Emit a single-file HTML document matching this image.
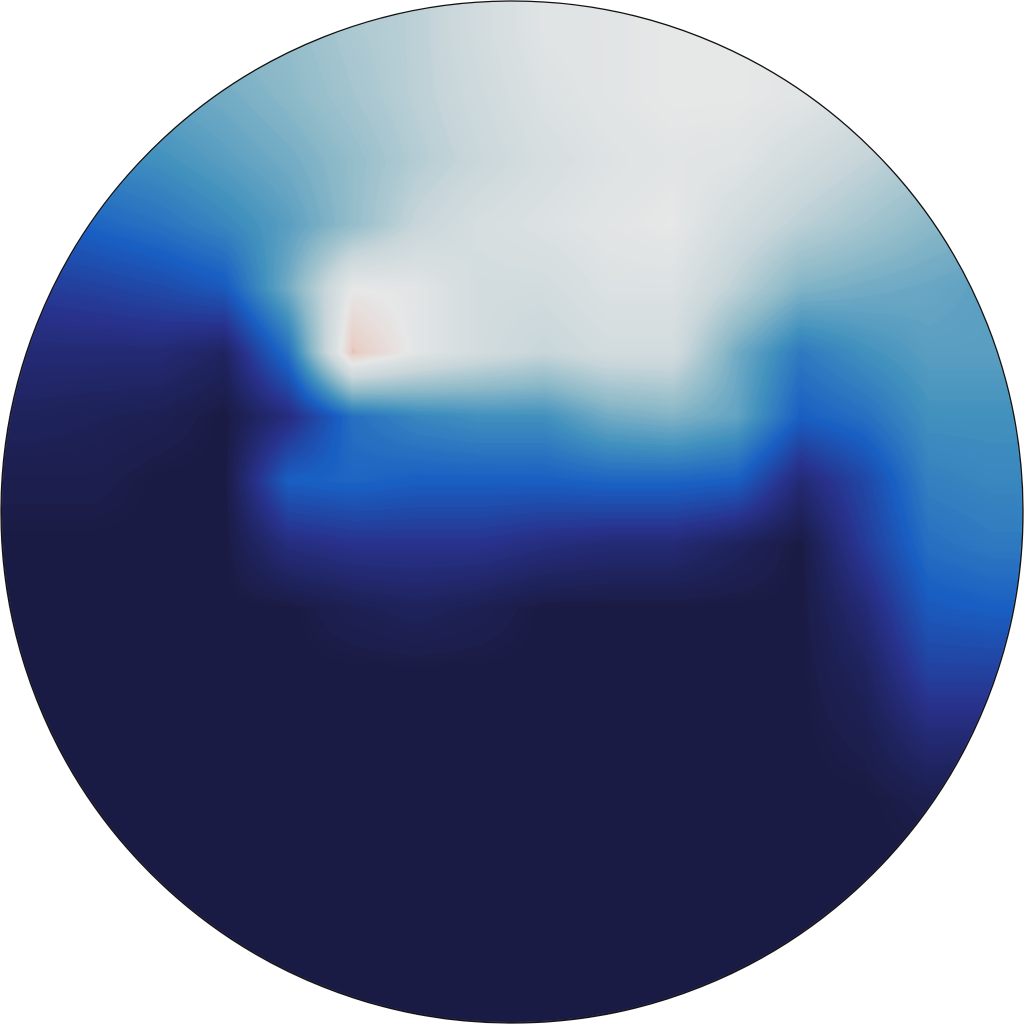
<!DOCTYPE html>
<html><head><meta charset="utf-8"><style>
html,body{margin:0;padding:0;background:#fff;width:1024px;height:1024px;overflow:hidden}
#wrap{position:relative;width:1024px;height:1024px}
canvas,svg{position:absolute;left:0;top:0}
</style></head><body>
<div id="wrap">
<canvas id="c" width="1024" height="1024"></canvas>
<svg width="1024" height="1024">
<circle cx="512" cy="512" r="511" fill="none" stroke="#111" stroke-width="1.3"/>
</svg>
</div>
<script>
const rowsY = [32,96,160,224,288,352,416,480,544,608,672,736,800,864,928,992];
const colsX = [32,96,160,224,288,352,416,480,544,608,672,736,800,864,928,992];
const fieldValues = [
[0.5,0.5,0.55,0.6,0.62,0.68,0.72,0.8,0.87,0.88,0.9,0.9,0.88,0.85,0.8,0.75],
[0.45,0.5,0.52,0.55,0.6,0.66,0.72,0.78,0.85,0.88,0.9,0.9,0.88,0.82,0.78,0.72],
[0.38,0.42,0.45,0.5,0.55,0.62,0.7,0.76,0.82,0.86,0.88,0.87,0.8,0.74,0.68,0.64],
[0.28,0.32,0.36,0.42,0.5,0.62,0.75,0.82,0.85,0.88,0.9,0.8,0.72,0.66,0.6,0.57],
[0.18,0.2,0.23,0.28,0.55,0.9,0.88,0.8,0.8,0.85,0.85,0.72,0.58,0.55,0.53,0.5],
[0.1,0.1,0.1,0.06,0.35,1.02,0.88,0.8,0.75,0.8,0.8,0.55,0.38,0.45,0.5,0.5],
[0.05,0.04,0.03,0.0,0.12,0.35,0.42,0.45,0.45,0.55,0.58,0.52,0.3,0.35,0.45,0.45],
[0.02,0.02,0.0,0.0,0.3,0.32,0.3,0.3,0.3,0.32,0.32,0.3,0.1,0.22,0.4,0.42],
[0,0,0,0,0.12,0.15,0.15,0.15,0.12,0.1,0.1,0.05,0.0,0.18,0.35,0.38],
[0,0,0,0,0,0.03,0.05,0.03,0,0,0,0,0,0.1,0.28,0.3],
[0,0,0,0,0,0,0,0,0,0,0,0,0,0.05,0.2,0.2],
[0,0,0,0,0,0,0,0,0,0,0,0,0,0.02,0.1,0.1],
[0,0,0,0,0,0,0,0,0,0,0,0,0,0,0.02,0],
[0,0,0,0,0,0,0,0,0,0,0,0,0,0,0,0],
[0,0,0,0,0,0,0,0,0,0,0,0,0,0,0,0],
[0,0,0,0,0,0,0,0,0,0,0,0,0,0,0,0]
];
const cmapStops = [0,0.15,0.3,0.45,0.6,0.75,0.9,1.0,1.1];
const cmapColors = [[26,27,68],[40,50,140],[25,95,195],[65,145,190],[140,185,200],[200,214,218],[230,231,231],[232,208,200],[216,140,125]];

function cmap(v){
  if(v<=cmapStops[0]) return cmapColors[0];
  for(let i=1;i<cmapStops.length;i++){
    if(v<=cmapStops[i]){
      const t=(v-cmapStops[i-1])/(cmapStops[i]-cmapStops[i-1]);
      const a=cmapColors[i-1],b=cmapColors[i];
      return [a[0]+(b[0]-a[0])*t,a[1]+(b[1]-a[1])*t,a[2]+(b[2]-a[2])*t];
    }
  }
  return cmapColors[cmapColors.length-1];
}
function idx(arr,p){
  if(p<=arr[0]) return [0,0,0];
  const n=arr.length-1;
  if(p>=arr[n]) return [n,n,0];
  for(let i=0;i<n;i++) if(p<arr[i+1]){ const t=(p-arr[i])/(arr[i+1]-arr[i]); return [i,i+1,t]; }
  return [n,n,0];
}
const cv=document.getElementById('c');
const ctx=cv.getContext('2d');
const img=ctx.createImageData(1024,1024);
for(let y=0;y<1024;y++){
  const [r0,r1,ty]=idx(rowsY,y);
  for(let x=0;x<1024;x++){
    const [c0,c1,tx]=idx(colsX,x);
    const v=(fieldValues[r0][c0]*(1-tx)+fieldValues[r0][c1]*tx)*(1-ty)+(fieldValues[r1][c0]*(1-tx)+fieldValues[r1][c1]*tx)*ty;
    const q=Math.round(v*40)/40*0.3+v*0.7;
    const col=cmap(q);
    const k=(y*1024+x)*4;
    img.data[k]=col[0];img.data[k+1]=col[1];img.data[k+2]=col[2];img.data[k+3]=255;
  }
}
const tmp=document.createElement('canvas');tmp.width=1024;tmp.height=1024;
tmp.getContext('2d').putImageData(img,0,0);
ctx.fillStyle='#fff';ctx.fillRect(0,0,1024,1024);
ctx.save();ctx.beginPath();ctx.arc(512,512,511,0,Math.PI*2);ctx.clip();
ctx.drawImage(tmp,0,0);ctx.restore();
</script>
</body></html>
